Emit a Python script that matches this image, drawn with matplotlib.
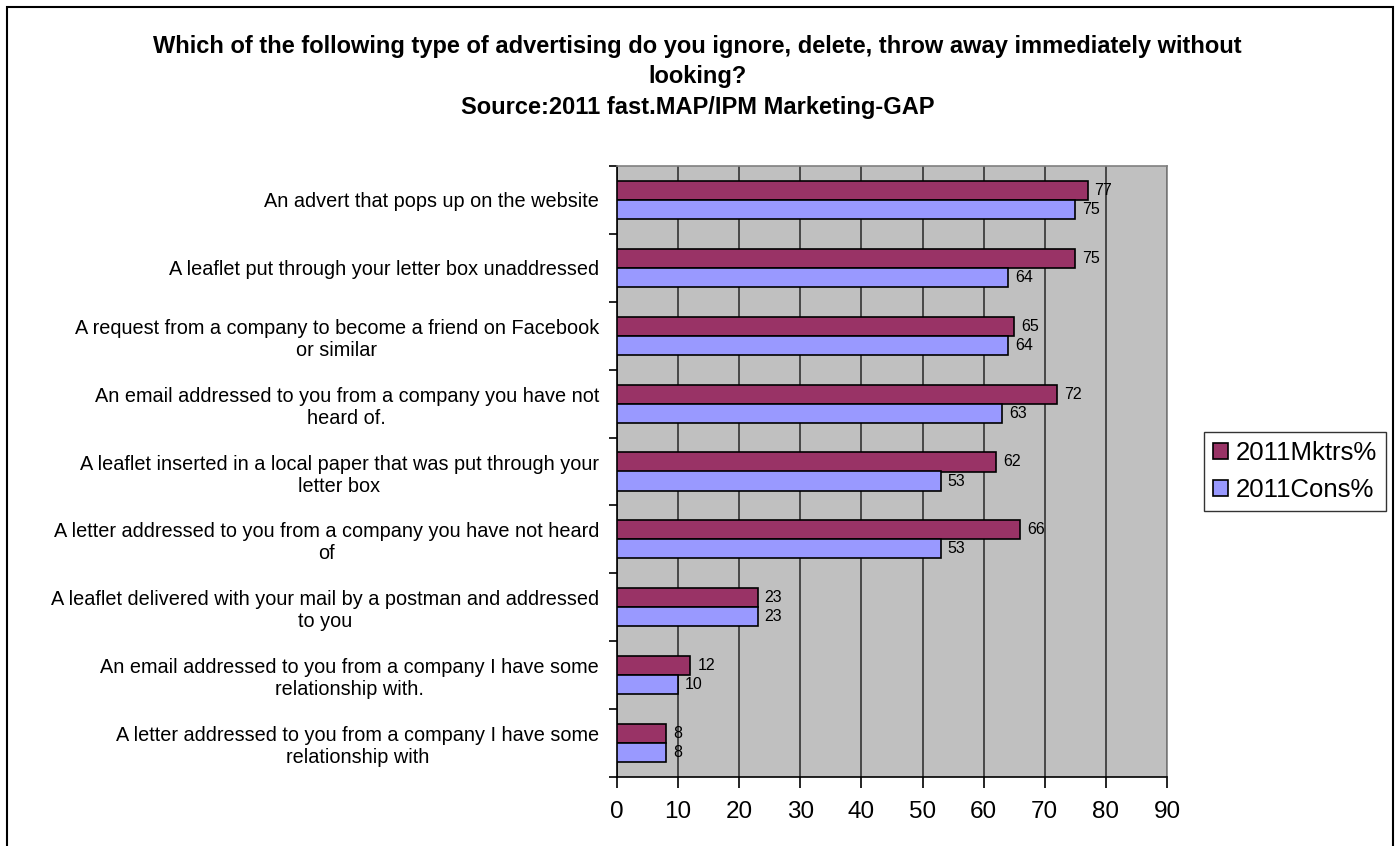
import matplotlib.pyplot as plt
import matplotlib.patches as patches
import numpy as np

plt.rcParams['font.family'] = ['Liberation Sans', 'DejaVu Sans']

# survey answers, top of chart first
categories = [
    "An advert that pops up on the website",
    "A leaflet put through your letter box unaddressed",
    "A request from a company to become a friend on Facebook\nor similar",
    "An email addressed to you from a company you have not\nheard of.",
    "A leaflet inserted in a local paper that was put through your\nletter box",
    "A letter addressed to you from a company you have not heard\nof",
    "A leaflet delivered with your mail by a postman and addressed\nto you",
    "An email addressed to you from a company I have some\nrelationship with.",
    "A letter addressed to you from a company I have some\nrelationship with",
]
mktrs = [77, 75, 65, 72, 62, 66, 23, 12, 8]
cons = [75, 64, 64, 63, 53, 53, 23, 10, 8]
series_names = ["2011Mktrs%", "2011Cons%"]
colors = ["#993366", "#9999FF"]
xticks = [0, 10, 20, 30, 40, 50, 60, 70, 80, 90]

W, H = 1395, 846
fig = plt.figure(figsize=(W / 100, H / 100), dpi=100)
fig.patch.set_facecolor("white")

# outer chart frame (bottom runs off the page)
fig.add_artist(patches.Rectangle((7 / W, -0.05), (1393 - 7) / W, 1.05 - 7 / H,
                                 transform=fig.transFigure, fill=False,
                                 edgecolor="black", linewidth=1.5))

ax = fig.add_axes([617 / W, 1 - 777 / H, (1167 - 617) / W, (777 - 166) / H])
ax.set_facecolor("#C0C0C0")

n = len(categories)
y = np.arange(n)
bh = 0.28

b1 = ax.barh(y - bh / 2, mktrs, height=bh, color=colors[0], edgecolor="black",
             linewidth=1.2, label=series_names[0], zorder=3)
b2 = ax.barh(y + bh / 2, cons, height=bh, color=colors[1], edgecolor="black",
             linewidth=1.2, label=series_names[1], zorder=3)

for bars, vals in ((b1, mktrs), (b2, cons)):
    for bar, v in zip(bars, vals):
        ax.annotate(str(v), (v, bar.get_y() + bar.get_height() / 2),
                    xytext=(5, 0), textcoords="offset points",
                    ha="left", va="center", fontsize=11.5, zorder=4)

ax.set_xlim(0, 90)
ax.set_ylim(n - 0.5, -0.5)
ax.set_xticks(xticks)
ax.set_xticklabels([str(t) for t in xticks], fontsize=17.5)
ax.xaxis.grid(True, color="#333333", linewidth=1.2, zorder=1)

# category ticks sit on the boundaries, labels in the middle
ax.set_yticks(np.arange(n + 1) - 0.5)
ax.set_yticklabels([])
ax.set_yticks(y, minor=True)
ax.set_yticklabels(categories, minor=True, fontsize=14.3, ha="right",
                   multialignment="center")
ax.tick_params(axis="y", which="minor", length=0, pad=13)
ax.tick_params(axis="y", which="major", length=6, width=1.2, direction="out")
ax.tick_params(axis="x", length=8, width=1.2, direction="out", pad=9)

for side in ("top", "right"):
    ax.spines[side].set_color("#808080")
    ax.spines[side].set_linewidth(1.2)
for side in ("left", "bottom"):
    ax.spines[side].set_color("black")
    ax.spines[side].set_linewidth(1.2)

fig.text(0.5, 1 - 77 / H,
         "Which of the following type of advertising do you ignore, delete, throw away immediately without\n"
         "looking?\nSource:2011 fast.MAP/IPM Marketing-GAP",
         ha="center", va="center", fontsize=17, fontweight="bold",
         linespacing=1.4)

leg = fig.legend(handles=[b1, b2], labels=series_names, loc="upper left",
                 bbox_to_anchor=(1204 / W, 1 - 432 / H), fontsize=18.5,
                 frameon=True, fancybox=False, edgecolor="black",
                 handlelength=0.6, handleheight=0.6, handletextpad=0.3,
                 borderpad=0.35, labelspacing=0.5, borderaxespad=0)
leg.get_frame().set_linewidth(1.0)

fig.savefig("out.png", dpi=100)
